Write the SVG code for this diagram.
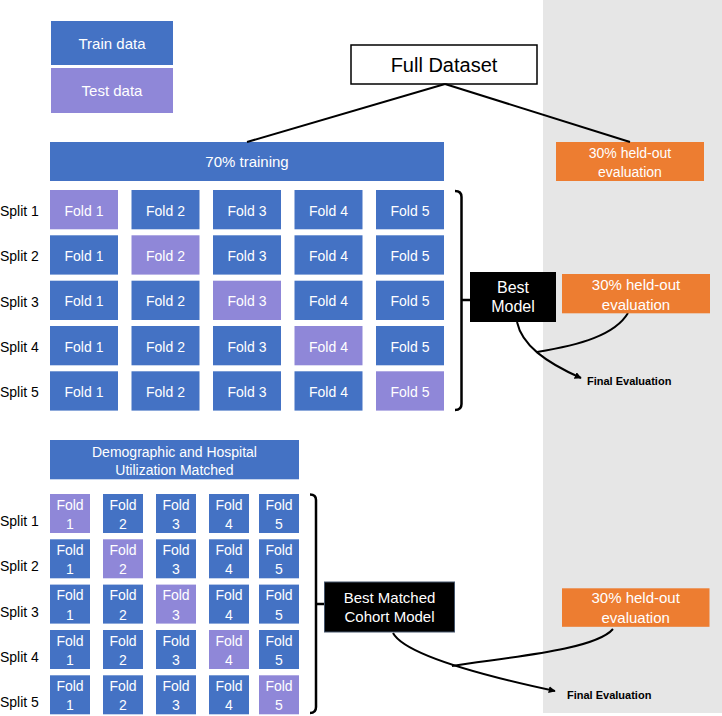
<svg xmlns="http://www.w3.org/2000/svg" width="722" height="716" viewBox="0 0 722 716">
<style>
text{font-family:"Liberation Sans",Arial,sans-serif}
.tr{fill:#4472C4}
.te{fill:#8F87D8}
.or{fill:#ED7D31}
.w{fill:#fff;text-anchor:middle}
.f{font-size:14px}
.s{font-size:14px;fill:#000}
.ln{fill:none;stroke:#000;stroke-width:2}
.br{fill:none;stroke:#000;stroke-width:2.5;stroke-linejoin:round}
.fe{font-size:11px;font-weight:bold;fill:#000}
</style>
<defs>
<marker id="ah" viewBox="0 0 10 10" refX="9" refY="5" markerWidth="7" markerHeight="7" orient="auto" markerUnits="userSpaceOnUse">
<path d="M0,0 L10,5 L0,10 z" fill="#000"/>
</marker>
</defs>
<rect x="543" y="0" width="179" height="713" fill="#E6E6E6"/>

<g id="legend-train"><rect class="tr" x="51" y="21" width="122" height="44"/><text class="w" x="112" y="49" font-size="15">Train data</text></g>
<g id="legend-test"><rect class="te" x="51" y="68" width="122" height="45"/><text class="w" x="112" y="96" font-size="15">Test data</text></g>

<g id="full-dataset"><rect x="351" y="45" width="186" height="39" fill="#fff" stroke="#000" stroke-width="1.5"/><text x="444" y="72" font-size="20" text-anchor="middle" fill="#000">Full Dataset</text></g>

<g id="training70"><rect class="tr" x="50" y="142" width="394" height="39"/><text class="w" x="247" y="167" font-size="15">70% training</text></g>

<g id="heldout1"><rect class="or" x="556" y="142" width="148" height="39"/><text class="w f" x="630" y="157.5">30% held-out</text><text class="w f" x="630" y="176.5">evaluation</text></g>

<g id="connectors">
<path class="ln" d="M445,84 L247,142"/>
<path class="ln" d="M445,84 L630,142"/>
<path class="br" d="M455,191 Q461.5,191 461.5,197 V404 Q461.5,410 455,410"/>
<path class="br" d="M461.5,300 H470"/>
<path class="ln" d="M517,322 C522,345 545,362 581,378" marker-end="url(#ah)"/>
<path class="ln" d="M628,313 C615,335 580,345 537,352"/>
<path class="br" d="M310,494.5 Q316,494.5 316,500 V707 Q316,713 310,713"/>
<path class="br" d="M316,604 H324"/>
<path class="ln" d="M393,633 C405,655 480,675 555,691" marker-end="url(#ah)"/>
<path class="ln" d="M613,629 C595,650 510,657 452,666"/>
</g>

<g id="splits-top">
<text class="s" x="0" y="216">Split 1</text>
<text class="s" x="0" y="261.3">Split 2</text>
<text class="s" x="0" y="306.7">Split 3</text>
<text class="s" x="0" y="352">Split 4</text>
<text class="s" x="0" y="397.3">Split 5</text>
</g>

<g id="grid-top">
<g id="t-r1">
<rect class="te" x="50" y="190" width="68" height="39.3"/><text class="w f" x="84" y="215.7">Fold 1</text>
<rect class="tr" x="131.5" y="190" width="68" height="39.3"/><text class="w f" x="165.5" y="215.7">Fold 2</text>
<rect class="tr" x="213" y="190" width="68" height="39.3"/><text class="w f" x="247" y="215.7">Fold 3</text>
<rect class="tr" x="294.5" y="190" width="68" height="39.3"/><text class="w f" x="328.5" y="215.7">Fold 4</text>
<rect class="tr" x="376" y="190" width="68" height="39.3"/><text class="w f" x="410" y="215.7">Fold 5</text>
</g>
<g id="t-r2">
<rect class="tr" x="50" y="235.3" width="68" height="39.3"/><text class="w f" x="84" y="261">Fold 1</text>
<rect class="te" x="131.5" y="235.3" width="68" height="39.3"/><text class="w f" x="165.5" y="261">Fold 2</text>
<rect class="tr" x="213" y="235.3" width="68" height="39.3"/><text class="w f" x="247" y="261">Fold 3</text>
<rect class="tr" x="294.5" y="235.3" width="68" height="39.3"/><text class="w f" x="328.5" y="261">Fold 4</text>
<rect class="tr" x="376" y="235.3" width="68" height="39.3"/><text class="w f" x="410" y="261">Fold 5</text>
</g>
<g id="t-r3">
<rect class="tr" x="50" y="280.7" width="68" height="39.3"/><text class="w f" x="84" y="306.4">Fold 1</text>
<rect class="tr" x="131.5" y="280.7" width="68" height="39.3"/><text class="w f" x="165.5" y="306.4">Fold 2</text>
<rect class="te" x="213" y="280.7" width="68" height="39.3"/><text class="w f" x="247" y="306.4">Fold 3</text>
<rect class="tr" x="294.5" y="280.7" width="68" height="39.3"/><text class="w f" x="328.5" y="306.4">Fold 4</text>
<rect class="tr" x="376" y="280.7" width="68" height="39.3"/><text class="w f" x="410" y="306.4">Fold 5</text>
</g>
<g id="t-r4">
<rect class="tr" x="50" y="326" width="68" height="39.3"/><text class="w f" x="84" y="351.7">Fold 1</text>
<rect class="tr" x="131.5" y="326" width="68" height="39.3"/><text class="w f" x="165.5" y="351.7">Fold 2</text>
<rect class="tr" x="213" y="326" width="68" height="39.3"/><text class="w f" x="247" y="351.7">Fold 3</text>
<rect class="te" x="294.5" y="326" width="68" height="39.3"/><text class="w f" x="328.5" y="351.7">Fold 4</text>
<rect class="tr" x="376" y="326" width="68" height="39.3"/><text class="w f" x="410" y="351.7">Fold 5</text>
</g>
<g id="t-r5">
<rect class="tr" x="50" y="371.3" width="68" height="39.3"/><text class="w f" x="84" y="397">Fold 1</text>
<rect class="tr" x="131.5" y="371.3" width="68" height="39.3"/><text class="w f" x="165.5" y="397">Fold 2</text>
<rect class="tr" x="213" y="371.3" width="68" height="39.3"/><text class="w f" x="247" y="397">Fold 3</text>
<rect class="tr" x="294.5" y="371.3" width="68" height="39.3"/><text class="w f" x="328.5" y="397">Fold 4</text>
<rect class="te" x="376" y="371.3" width="68" height="39.3"/><text class="w f" x="410" y="397">Fold 5</text>
</g>
</g>

<g id="best-model"><rect x="470" y="272" width="86" height="50" fill="#000"/><text class="w" x="513" y="293.3" font-size="16">Best</text><text class="w" x="513" y="312.3" font-size="16">Model</text></g>
<g id="heldout2"><rect class="or" x="562" y="274" width="148" height="39.3"/><text class="w" x="636" y="290" font-size="15">30% held-out</text><text class="w" x="636" y="309.5" font-size="15">evaluation</text></g>
<g id="final-eval1"><text class="fe" x="587" y="385">Final Evaluation</text></g>

<g id="matched"><rect class="tr" x="50" y="440" width="249" height="39.3"/><text class="w f" x="174.5" y="456.7">Demographic and Hospital</text><text class="w f" x="174.5" y="475">Utilization Matched</text></g>

<g id="splits-bottom">
<text class="s" x="0" y="526">Split 1</text>
<text class="s" x="0" y="571.3">Split 2</text>
<text class="s" x="0" y="616.6">Split 3</text>
<text class="s" x="0" y="662">Split 4</text>
<text class="s" x="0" y="707.3">Split 5</text>
</g>

<g id="grid-bottom">
<g id="b-r1">
<rect class="te" x="50" y="494" width="40" height="39"/><text class="w f" x="70" y="509.5">Fold</text><text class="w f" x="70" y="529">1</text>
<rect class="tr" x="103" y="494" width="40" height="39"/><text class="w f" x="123" y="509.5">Fold</text><text class="w f" x="123" y="529">2</text>
<rect class="tr" x="156" y="494" width="40" height="39"/><text class="w f" x="176" y="509.5">Fold</text><text class="w f" x="176" y="529">3</text>
<rect class="tr" x="209" y="494" width="40" height="39"/><text class="w f" x="229" y="509.5">Fold</text><text class="w f" x="229" y="529">4</text>
<rect class="tr" x="259" y="494" width="40" height="39"/><text class="w f" x="279" y="509.5">Fold</text><text class="w f" x="279" y="529">5</text>
</g>
<g id="b-r2">
<rect class="tr" x="50" y="539.3" width="40" height="39"/><text class="w f" x="70" y="554.8">Fold</text><text class="w f" x="70" y="574.3">1</text>
<rect class="te" x="103" y="539.3" width="40" height="39"/><text class="w f" x="123" y="554.8">Fold</text><text class="w f" x="123" y="574.3">2</text>
<rect class="tr" x="156" y="539.3" width="40" height="39"/><text class="w f" x="176" y="554.8">Fold</text><text class="w f" x="176" y="574.3">3</text>
<rect class="tr" x="209" y="539.3" width="40" height="39"/><text class="w f" x="229" y="554.8">Fold</text><text class="w f" x="229" y="574.3">4</text>
<rect class="tr" x="259" y="539.3" width="40" height="39"/><text class="w f" x="279" y="554.8">Fold</text><text class="w f" x="279" y="574.3">5</text>
</g>
<g id="b-r3">
<rect class="tr" x="50" y="584.6" width="40" height="39"/><text class="w f" x="70" y="600.1">Fold</text><text class="w f" x="70" y="619.6">1</text>
<rect class="tr" x="103" y="584.6" width="40" height="39"/><text class="w f" x="123" y="600.1">Fold</text><text class="w f" x="123" y="619.6">2</text>
<rect class="te" x="156" y="584.6" width="40" height="39"/><text class="w f" x="176" y="600.1">Fold</text><text class="w f" x="176" y="619.6">3</text>
<rect class="tr" x="209" y="584.6" width="40" height="39"/><text class="w f" x="229" y="600.1">Fold</text><text class="w f" x="229" y="619.6">4</text>
<rect class="tr" x="259" y="584.6" width="40" height="39"/><text class="w f" x="279" y="600.1">Fold</text><text class="w f" x="279" y="619.6">5</text>
</g>
<g id="b-r4">
<rect class="tr" x="50" y="630" width="40" height="39"/><text class="w f" x="70" y="645.5">Fold</text><text class="w f" x="70" y="665">1</text>
<rect class="tr" x="103" y="630" width="40" height="39"/><text class="w f" x="123" y="645.5">Fold</text><text class="w f" x="123" y="665">2</text>
<rect class="tr" x="156" y="630" width="40" height="39"/><text class="w f" x="176" y="645.5">Fold</text><text class="w f" x="176" y="665">3</text>
<rect class="te" x="209" y="630" width="40" height="39"/><text class="w f" x="229" y="645.5">Fold</text><text class="w f" x="229" y="665">4</text>
<rect class="tr" x="259" y="630" width="40" height="39"/><text class="w f" x="279" y="645.5">Fold</text><text class="w f" x="279" y="665">5</text>
</g>
<g id="b-r5">
<rect class="tr" x="50" y="675.3" width="40" height="39"/><text class="w f" x="70" y="690.8">Fold</text><text class="w f" x="70" y="710.3">1</text>
<rect class="tr" x="103" y="675.3" width="40" height="39"/><text class="w f" x="123" y="690.8">Fold</text><text class="w f" x="123" y="710.3">2</text>
<rect class="tr" x="156" y="675.3" width="40" height="39"/><text class="w f" x="176" y="690.8">Fold</text><text class="w f" x="176" y="710.3">3</text>
<rect class="tr" x="209" y="675.3" width="40" height="39"/><text class="w f" x="229" y="690.8">Fold</text><text class="w f" x="229" y="710.3">4</text>
<rect class="te" x="259" y="675.3" width="40" height="39"/><text class="w f" x="279" y="690.8">Fold</text><text class="w f" x="279" y="710.3">5</text>
</g>
</g>

<g id="best-matched"><rect x="324.5" y="582" width="130" height="50" fill="#000" stroke="#44546A" stroke-width="1"/><text class="w" x="389.5" y="602.7" font-size="15">Best Matched</text><text class="w" x="389.5" y="621.7" font-size="15">Cohort Model</text></g>
<g id="heldout3"><rect class="or" x="562" y="588.3" width="147.5" height="38.5"/><text class="w" x="635.7" y="603.3" font-size="15">30% held-out</text><text class="w" x="635.7" y="622.7" font-size="15">evaluation</text></g>
<g id="final-eval2"><text class="fe" x="567" y="699.3">Final Evaluation</text></g>
</svg>
